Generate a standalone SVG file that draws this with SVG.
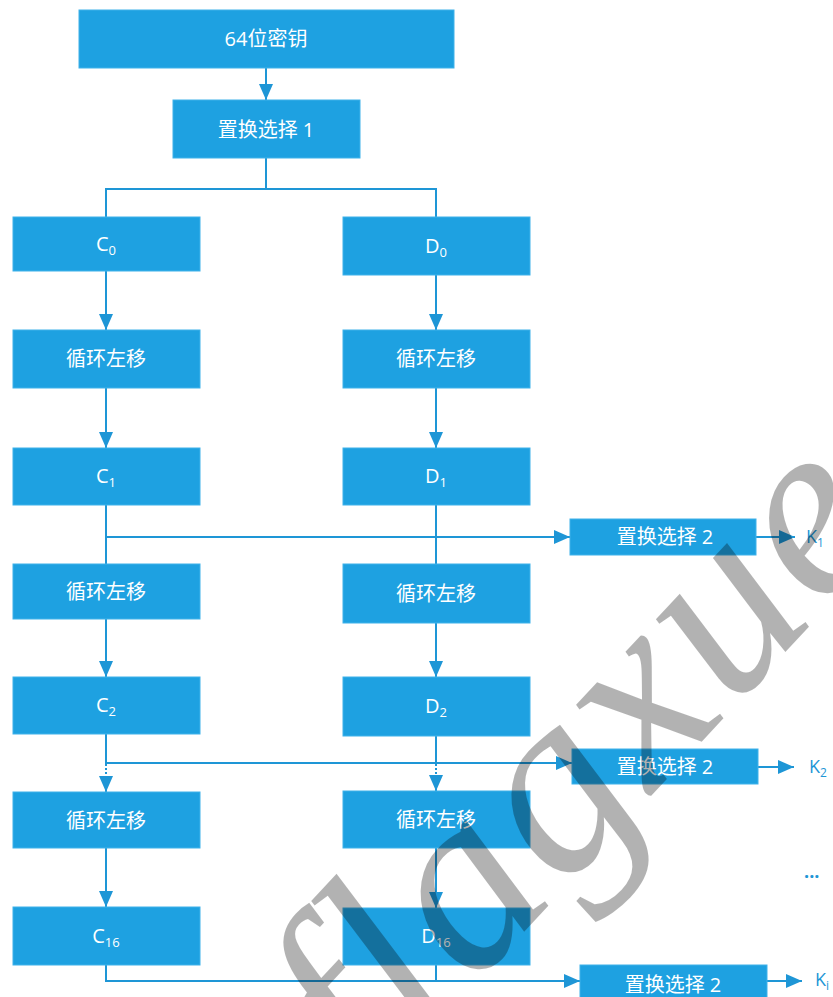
<svg xmlns="http://www.w3.org/2000/svg" width="833" height="997" viewBox="0 0 833 997">
<style>
.box{fill:#1ea1e1;stroke:#3fb2ea;stroke-width:1}
.t{fill:#ffffff;font-family:"Open Sans","Noto Sans CJK SC",sans-serif;font-size:20px;text-anchor:middle}
.k{fill:#1e96d6;font-family:"Open Sans","Noto Sans CJK SC",sans-serif;font-size:18px}
.ln{fill:none;stroke:#1e96d6;stroke-width:2}
.dot{fill:none;stroke:#1e96d6;stroke-width:2;stroke-dasharray:2 2}
.wm{fill:#000;fill-opacity:0.3;font-family:"Liberation Serif",serif;font-style:italic;font-weight:normal;font-size:255px;text-anchor:middle;letter-spacing:4px}
</style>
<defs>
<marker id="ah" markerUnits="userSpaceOnUse" markerWidth="16" markerHeight="16" viewBox="0 0 16 16" refX="16" refY="8" orient="auto">
<path d="M0,1 L16,8 L0,15 z" fill="#1e96d6"/>
</marker>
</defs>
<rect width="833" height="997" fill="#ffffff"/>
<g id="connectors">
<line class="ln" x1="266" y1="68" x2="266" y2="100" marker-end="url(#ah)"/>
<path class="ln" d="M266,158 V189 M106,217 V189 H436 V217"/>
<line class="ln" x1="106" y1="271" x2="106" y2="330" marker-end="url(#ah)"/>
<line class="ln" x1="436" y1="275" x2="436" y2="330" marker-end="url(#ah)"/>
<line class="ln" x1="106" y1="388" x2="106" y2="448" marker-end="url(#ah)"/>
<line class="ln" x1="436" y1="388" x2="436" y2="448" marker-end="url(#ah)"/>
<line class="ln" x1="106" y1="505" x2="106" y2="564"/>
<line class="ln" x1="436" y1="505" x2="436" y2="564"/>
<path class="ln" d="M106,537 H570" marker-end="url(#ah)"/>
<line class="ln" x1="756" y1="537" x2="795" y2="537" marker-end="url(#ah)"/>
<line class="ln" x1="106" y1="619" x2="106" y2="677" marker-end="url(#ah)"/>
<line class="ln" x1="436" y1="623" x2="436" y2="677" marker-end="url(#ah)"/>
<line class="ln" x1="106" y1="734" x2="106" y2="764"/>
<line class="ln" x1="436" y1="736" x2="436" y2="764"/>
<path class="ln" d="M106,763 H572" marker-end="url(#ah)"/>
<line class="dot" x1="106" y1="764" x2="106" y2="776"/>
<line class="dot" x1="436" y1="764" x2="436" y2="775"/>
<line class="ln" x1="106" y1="776" x2="106" y2="792" marker-end="url(#ah)"/>
<line class="ln" x1="436" y1="775" x2="436" y2="791" marker-end="url(#ah)"/>
<line class="ln" x1="758" y1="767" x2="794" y2="767" marker-end="url(#ah)"/>
<line class="ln" x1="106" y1="848" x2="106" y2="907" marker-end="url(#ah)"/>
<line class="ln" x1="436" y1="848" x2="436" y2="908" marker-end="url(#ah)"/>
<path class="ln" d="M106,965 V981 H580" marker-end="url(#ah)"/>
<line class="ln" x1="436" y1="965" x2="436" y2="981"/>
<line class="ln" x1="767" y1="981" x2="802" y2="981" marker-end="url(#ah)"/>
</g>
<g id="key64"><rect class="box" x="79" y="10" width="375" height="58"/><text class="t" x="266" y="46">64位密钥</text></g>
<g id="pc1"><rect class="box" x="173" y="100" width="187" height="58"/><text class="t" x="266" y="137">置换选择 1</text></g>
<g id="c0"><rect class="box" x="13" y="217" width="187" height="54"/><text class="t" x="106" y="251">C<tspan font-size="13" dy="4">0</tspan></text></g>
<g id="d0"><rect class="box" x="343" y="217" width="187" height="58"/><text class="t" x="436" y="253">D<tspan font-size="13" dy="4">0</tspan></text></g>
<g id="lsc1"><rect class="box" x="13" y="330" width="187" height="58"/><text class="t" x="106" y="366">循环左移</text></g>
<g id="lsd1"><rect class="box" x="343" y="330" width="187" height="58"/><text class="t" x="436" y="366">循环左移</text></g>
<g id="c1"><rect class="box" x="13" y="448" width="187" height="57"/><text class="t" x="106" y="483">C<tspan font-size="13" dy="4">1</tspan></text></g>
<g id="d1"><rect class="box" x="343" y="448" width="187" height="57"/><text class="t" x="436" y="483">D<tspan font-size="13" dy="4">1</tspan></text></g>
<g id="pc2a"><rect class="box" x="570" y="519" width="186" height="36"/><text class="t" x="665" y="544">置换选择 2</text></g>
<text class="k" x="806" y="543">K<tspan font-size="12" dy="4">1</tspan></text>
<g id="lsc2"><rect class="box" x="13" y="564" width="187" height="55"/><text class="t" x="106" y="599">循环左移</text></g>
<g id="lsd2"><rect class="box" x="343" y="564" width="187" height="59"/><text class="t" x="436" y="601">循环左移</text></g>
<g id="c2"><rect class="box" x="13" y="677" width="187" height="57"/><text class="t" x="106" y="712">C<tspan font-size="13" dy="4">2</tspan></text></g>
<g id="d2"><rect class="box" x="343" y="677" width="187" height="59"/><text class="t" x="436" y="713">D<tspan font-size="13" dy="4">2</tspan></text></g>
<g id="pc2b"><rect class="box" x="572" y="749" width="186" height="35"/><text class="t" x="665" y="774">置换选择 2</text></g>
<text class="k" x="809" y="773">K<tspan font-size="12" dy="4">2</tspan></text>
<g id="lsc3"><rect class="box" x="13" y="792" width="187" height="56"/><text class="t" x="106" y="828">循环左移</text></g>
<g id="lsd3"><rect class="box" x="343" y="791" width="187" height="57"/><text class="t" x="436" y="827">循环左移</text></g>
<text class="k" x="804" y="878" font-weight="bold" font-size="20">...</text>
<g id="c16"><rect class="box" x="13" y="907" width="187" height="58"/><text class="t" x="106" y="943">C<tspan font-size="13" dy="4">16</tspan></text></g>
<g id="d16"><rect class="box" x="343" y="908" width="187" height="57"/><text class="t" x="436" y="943">D<tspan font-size="13" dy="4">16</tspan></text></g>
<g id="pc2c"><rect class="box" x="580" y="965" width="187" height="36"/><text class="t" x="673" y="992">置换选择 2</text></g>
<text class="k" x="815" y="986">K<tspan font-size="12" dy="4">i</tspan></text>
<text class="wm" x="636" y="812" transform="rotate(-47 636 812)">flagxue</text>
</svg>
